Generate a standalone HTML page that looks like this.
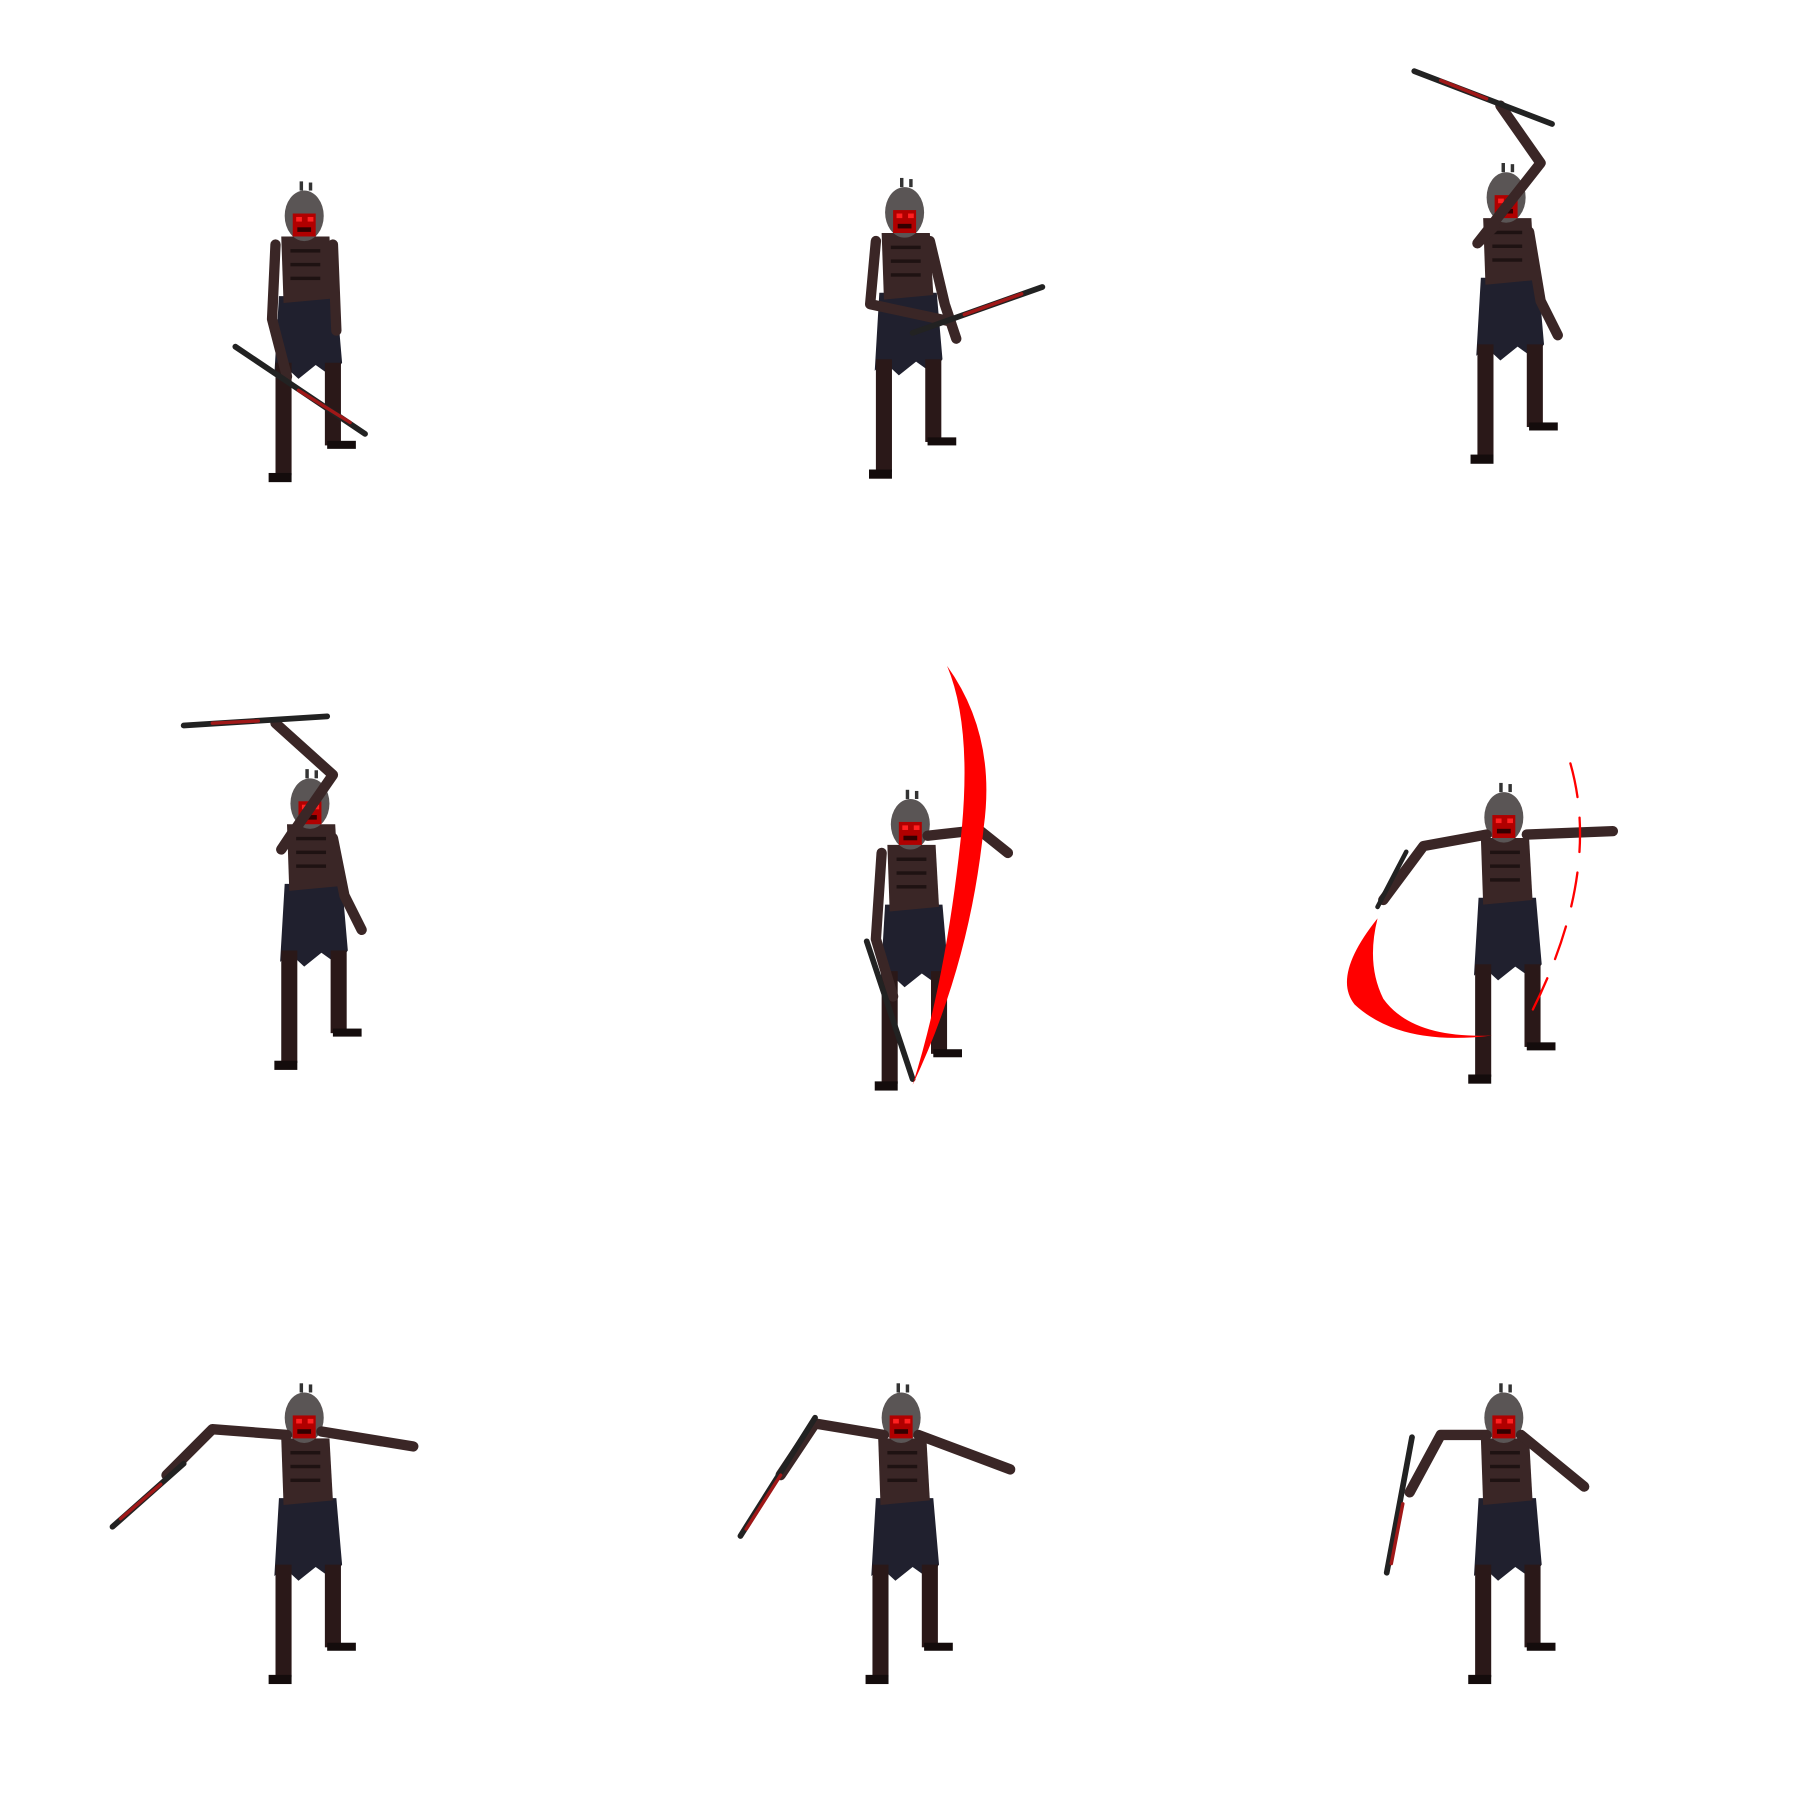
<!DOCTYPE html>
<html><head><meta charset="utf-8">
<style>html,body{margin:0;padding:0;background:#fff;width:1800px;height:1800px;overflow:hidden}</style>
</head><body>
<svg width="1800" height="1800" viewBox="0 0 1568 1568" xmlns="http://www.w3.org/2000/svg">
<defs>
<g id="body" stroke="none">
  <polygon points="-22,70 28,70 33,128 24,140 10,130 -5,142 -18,130 -26,138" fill="#20202e"/>
  <rect x="-25" y="128" width="14" height="98" fill="#2a1818"/>
  <rect x="-31" y="224" width="20" height="8" fill="#140c0c"/>
  <rect x="18" y="128" width="14" height="72" fill="#2a1818"/>
  <rect x="20" y="196" width="25" height="7" fill="#140c0c"/>
  <polygon points="-20,18 22,18 25,72 -18,76" fill="#3a2626"/>
  <rect x="-12" y="29" width="26" height="3" fill="#1e1212"/>
  <rect x="-12" y="41" width="26" height="3" fill="#1e1212"/>
  <rect x="-12" y="53" width="26" height="3" fill="#1e1212"/>
  <ellipse cx="0" cy="0" rx="17" ry="22" fill="#5a5555"/>
  <rect x="-10" y="-2" width="20" height="20" fill="#b00000"/>
  <rect x="-7" y="1" width="5" height="4" fill="#ff2020"/>
  <rect x="3" y="1" width="5" height="4" fill="#ff2020"/>
  <rect x="-6" y="10" width="12" height="4" fill="#300"/>
  <rect x="-4" y="-30" width="3" height="8" fill="#333"/>
  <rect x="4" y="-29" width="3" height="7" fill="#333"/>
</g>
</defs>
<g fill="none" stroke="#3a2626" stroke-width="9" stroke-linejoin="round" stroke-linecap="round">
<g transform="translate(265,188)">
  <use href="#body"/>
  <polyline points="-25,25 -28,90 -15,140"/><polyline points="25,25 28,100"/>
</g>
<line x1="205" y1="302" x2="318" y2="378" stroke="#222" stroke-width="5"/>
<line x1="260" y1="340" x2="305" y2="368" stroke="#a01818" stroke-width="3"/>
<g transform="translate(788,185)">
  <use href="#body"/>
  <polyline points="-25,25 -30,80 40,95"/><polyline points="22,25 35,80 45,110"/>
</g>
<line x1="795" y1="290" x2="908" y2="250" stroke="#222" stroke-width="5"/>
<line x1="840" y1="274" x2="890" y2="256" stroke="#a01818" stroke-width="3"/>
<g transform="translate(1312,172)">
  <use href="#body"/>
  <polyline points="-10,25 -25,40 30,-30 -5,-80"/><polyline points="20,30 30,90 45,120"/>
</g>
<line x1="1232" y1="62" x2="1352" y2="108" stroke="#222" stroke-width="5"/>
<line x1="1255" y1="70" x2="1295" y2="86" stroke="#a01818" stroke-width="3"/>
<g transform="translate(270,700)">
  <use href="#body"/>
  <polyline points="-15,25 -25,40 20,-25 -30,-70"/><polyline points="20,30 30,80 45,110"/>
</g>
<line x1="160" y1="632" x2="285" y2="624" stroke="#222" stroke-width="5"/>
<line x1="185" y1="630" x2="225" y2="628" stroke="#a01818" stroke-width="3"/>
<g transform="translate(793,718)">
  <use href="#body"/>
  <polyline points="-25,25 -30,100 -15,150"/><polyline points="15,10 60,5 85,25"/>
</g>
<line x1="755" y1="820" x2="795" y2="940" stroke="#222" stroke-width="5"/>
<path d="M825,580 Q868,640 857,720 Q845,840 795,945 Q825,850 838,720 Q846,630 825,580 Z" fill="#ff0000" stroke="none"/>
<g transform="translate(1310,712)">
  <use href="#body"/>
  <polyline points="-15,15 -70,25 -105,72"/><polyline points="20,15 95,12"/>
</g>
<line x1="1200" y1="790" x2="1225" y2="742" stroke="#222" stroke-width="4"/>
<path d="M1200,800 Q1160,850 1180,875 Q1220,912 1300,902 Q1230,905 1205,870 Q1190,840 1200,800 Z" fill="#ff0000" stroke="none"/>
<path d="M1368,665 Q1395,760 1335,880" stroke="#ff0000" stroke-width="2" stroke-dasharray="30,18" fill="none"/>
<g transform="translate(265,1235)">
  <use href="#body"/>
  <polyline points="-15,15 -80,10 -120,50"/><polyline points="15,12 95,25"/>
</g>
<line x1="160" y1="1275" x2="98" y2="1330" stroke="#222" stroke-width="5"/>
<line x1="140" y1="1293" x2="105" y2="1323" stroke="#a01818" stroke-width="3"/>
<g transform="translate(785,1235)">
  <use href="#body"/>
  <polyline points="-15,15 -75,5 -105,50"/><polyline points="15,15 95,45"/>
</g>
<line x1="710" y1="1235" x2="645" y2="1338" stroke="#222" stroke-width="5"/>
<line x1="680" y1="1285" x2="650" y2="1332" stroke="#a01818" stroke-width="3"/>
<g transform="translate(1310,1235)">
  <use href="#body"/>
  <polyline points="-15,15 -55,15 -82,65"/><polyline points="15,15 70,60"/>
</g>
<line x1="1230" y1="1252" x2="1208" y2="1370" stroke="#222" stroke-width="5"/>
<line x1="1222" y1="1310" x2="1212" y2="1362" stroke="#a01818" stroke-width="3"/>
</g>
</svg>
</body></html>
